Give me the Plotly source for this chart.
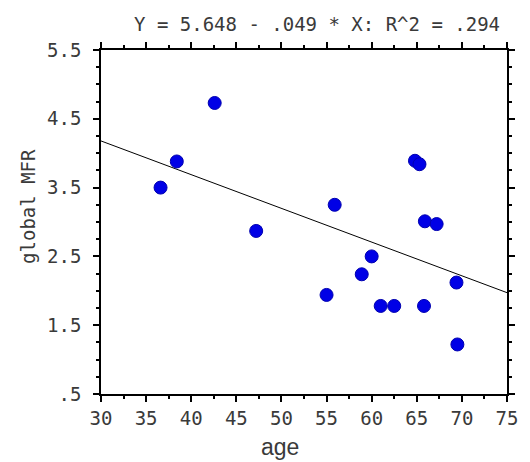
import plotly.graph_objects as go

age = [36.6, 38.4, 42.6, 47.2, 55.0, 55.9, 58.9, 60.0, 61.0, 62.5, 64.8, 65.3, 65.8, 65.9, 67.2, 69.4, 69.5]
mfr = [3.50, 3.88, 4.73, 2.87, 1.94, 3.25, 2.24, 2.50, 1.78, 1.78, 3.89, 3.84, 1.78, 3.01, 2.97, 2.12, 1.22]
intercept = 5.648
slope = -0.049
line_x = [30, 75]
line_y = [intercept + slope * v for v in line_x]

x_ticks = [30, 35, 40, 45, 50, 55, 60, 65, 70, 75]
x_tick_text = ["30", "35", "40", "45", "50", "55", "60", "65", "70", "75"]
y_ticks = [5.5, 4.5, 3.5, 2.5, 1.5, 0.5]
y_tick_text = ["5.5", "4.5", "3.5", "2.5", "1.5", ".5"]
title_text = "Y = 5.648 - .049 * X: R^2 = .294"

mono = "DejaVu Sans Mono"
txt = "#3a3a3a"

fig = go.Figure()
fig.add_trace(go.Scatter(x=line_x, y=line_y, mode="lines",
                         line=dict(color="black", width=1), hoverinfo="skip"))
fig.add_trace(go.Scatter(x=age, y=mfr, mode="markers",
                         marker=dict(color="#0000e6", size=13,
                                     line=dict(color="#0000b0", width=1))))

axis_common = dict(showgrid=False, zeroline=False, showline=True, linecolor="black",
                   linewidth=1.5, mirror="allticks", ticks="outside", ticklen=6,
                   tickwidth=1.5, tickcolor="black",
                   tickfont=dict(family=mono, size=19, color=txt))

fig.update_xaxes(range=[30, 75], tickvals=x_ticks, ticktext=x_tick_text,
                 minor=dict(dtick=2.5, tick0=30, ticks="outside", ticklen=3,
                            tickcolor="black", tickwidth=1.5),
                 ticklabelstandoff=0, **axis_common)
fig.update_yaxes(range=[0.5, 5.5], tickvals=y_ticks, ticktext=y_tick_text,
                 minor=dict(dtick=0.25, tick0=0.5, ticks="outside", ticklen=3,
                            tickcolor="black", tickwidth=1.5),
                 ticklabelstandoff=8, **axis_common)

fig.update_layout(
    width=530, height=462,
    margin=dict(l=101, r=18, t=50, b=68),
    plot_bgcolor="white", paper_bgcolor="white",
    showlegend=False,
    annotations=[
        dict(text=title_text, xref="paper", yref="paper",
             x=(319.5 - 101) / 411, y=(394 - 24) / 344,
             xanchor="center", yanchor="middle", showarrow=False,
             font=dict(family=mono, size=19, color=txt)),
        dict(text="age", xref="paper", yref="paper",
             x=(282 - 101) / 411, y=(394 - 447) / 344,
             xanchor="center", yanchor="middle", showarrow=False,
             font=dict(family="Liberation Sans", size=23, color=txt)),
        dict(text="global MFR", xref="paper", yref="paper",
             x=(27 - 101) / 411, y=(394 - 206) / 344,
             xanchor="center", yanchor="middle", showarrow=False, textangle=-90,
             font=dict(family=mono, size=19, color=txt)),
    ],
)

# remove the default 8px page margin so the 530x462 figure fills the window
fig.write_html("out.html", config={"displayModeBar": False},
               post_script="document.body.style.margin='0px';")
